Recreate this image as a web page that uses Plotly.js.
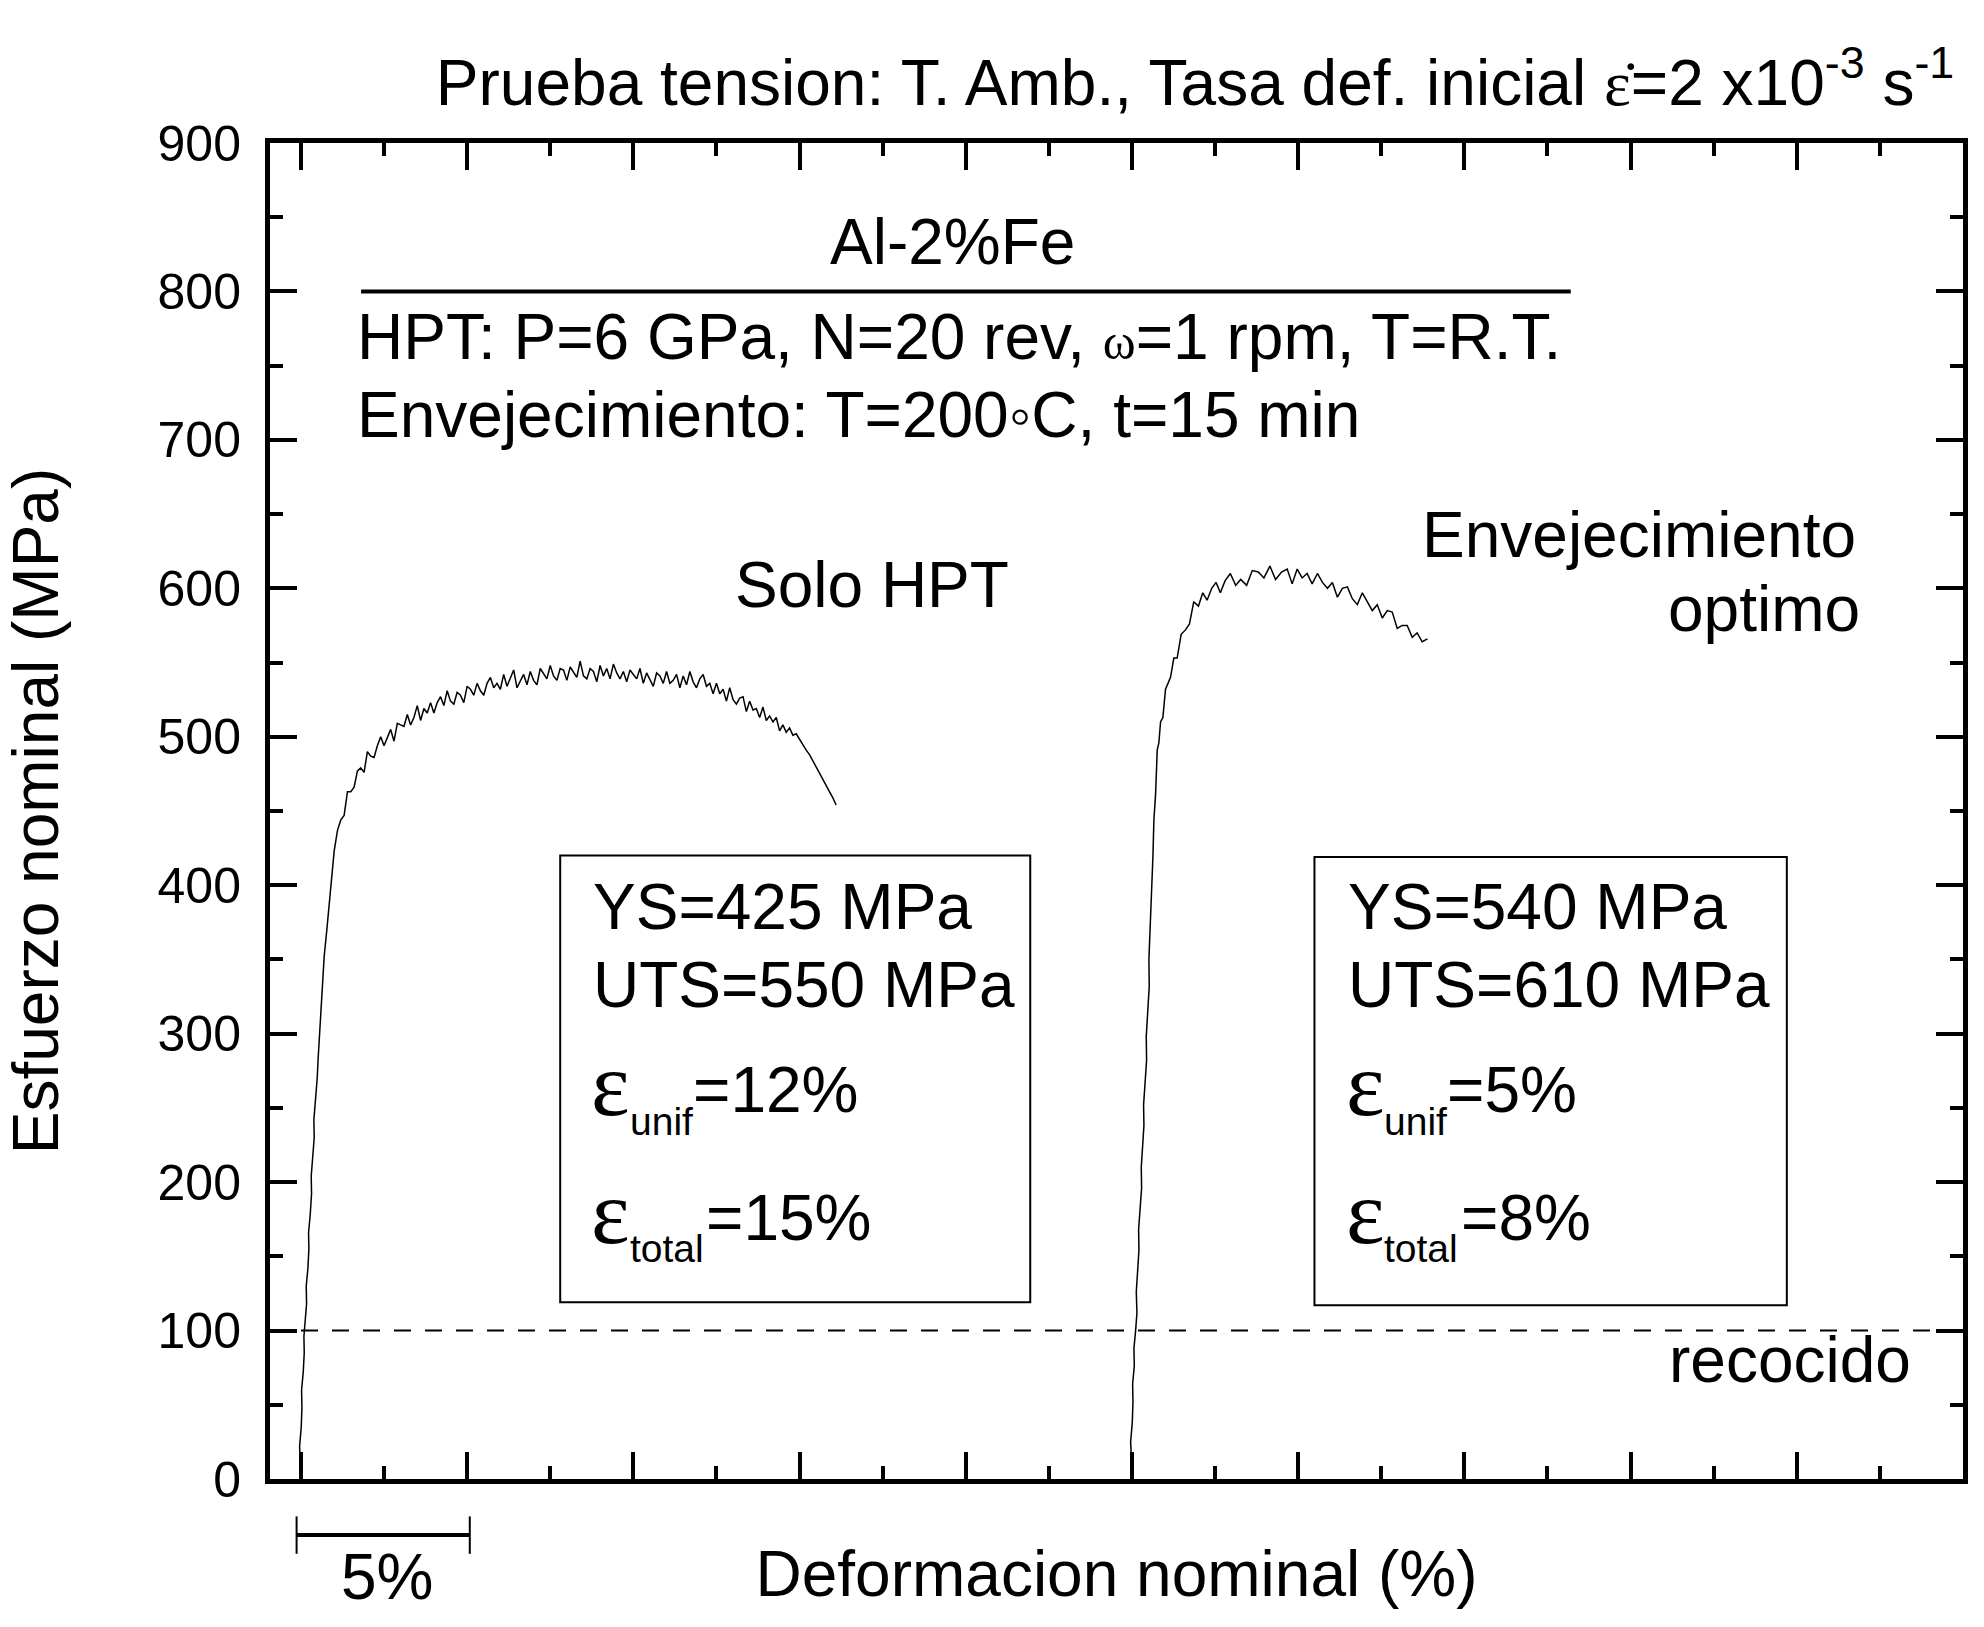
<!DOCTYPE html>
<html>
<head>
<meta charset="utf-8">
<script src="https://cdn.plot.ly/plotly-3.0.1.min.js"></script>
<style>
  html, body { margin: 0; padding: 0; background: #fff; }
  #chart { width: 1984px; height: 1627px; }
</style>
</head>
<body>
<div id="chart"></div>
<script>
// Tension curves: strain in %, nominal stress in MPa
const hptStrain = [
    -0.03, -0.01, -0.04, 0.01, 0.03, 0.02, 0.07, 0.10, 0.09, 0.14, 0.17, 0.16, 0.21, 0.24, 0.23, 0.28,
    0.32, 0.31, 0.36, 0.40, 0.39, 0.45, 0.49, 0.52, 0.56, 0.60, 0.65, 0.70, 0.78, 0.86, 0.93,
    1.0, 1.1, 1.2, 1.3, 1.4, 1.5, 1.6, 1.7, 1.8, 1.9, 2.0, 2.1, 2.2, 2.3, 2.4, 2.5, 2.6, 2.7, 2.8, 2.9,
    3.0, 3.1, 3.2, 3.3, 3.4, 3.5, 3.6, 3.7, 3.8, 3.9, 4.0, 4.1, 4.2, 4.3, 4.4, 4.5, 4.6, 4.7, 4.8, 4.9,
    5.0, 5.1, 5.2, 5.3, 5.4, 5.5, 5.6, 5.7, 5.8, 5.9, 6.0, 6.1, 6.2, 6.3, 6.4, 6.5, 6.6, 6.7, 6.8, 6.9,
    7.0, 7.1, 7.2, 7.3, 7.4, 7.5, 7.6, 7.7, 7.8, 7.9, 8.0, 8.1, 8.2, 8.3, 8.4, 8.5, 8.6, 8.7, 8.8, 8.9,
    9.0, 9.1, 9.2, 9.3, 9.4, 9.5, 9.6, 9.7, 9.8, 9.9, 10.0, 10.1, 10.2, 10.3, 10.4, 10.5, 10.6, 10.7, 10.8, 10.9,
    11.0, 11.1, 11.2, 11.3, 11.4, 11.5, 11.6, 11.7, 11.8, 11.9, 12.0, 12.1, 12.2, 12.3, 12.4, 12.5, 12.6, 12.7, 12.8, 12.9,
    13.0, 13.1, 13.2, 13.3, 13.4, 13.5, 13.6, 13.7, 13.8, 13.9, 14.0, 14.1, 14.2, 14.3, 14.4, 14.5, 14.6, 14.7, 14.8, 14.9,
    15.0, 15.1, 15.2, 15.3, 15.4, 15.5, 15.6, 15.7, 15.8, 15.9, 16.0, 16.1
];
const hptStress = [
    0, 10, 22, 35, 48, 60, 72, 85, 96, 108, 118, 130, 142, 155, 166, 178,
    192, 204, 216, 230, 242, 256, 270, 284, 300, 318, 336, 352, 370, 390, 408,
    423, 437, 444, 447, 463, 463, 466, 477, 479, 476, 490, 487, 486, 494, 500, 494, 499, 505, 497, 509,
    508, 507, 515, 508, 513, 521, 511, 519, 516, 523, 516, 523, 527, 521, 531, 524, 522, 530, 528, 523,
    534, 532, 528, 536, 531, 528, 536, 540, 533, 536, 532, 542, 534, 540, 545, 533, 538, 542, 535, 544,
    538, 535, 546, 542, 539, 548, 541, 538, 546, 545, 538, 547, 543, 540, 551, 541, 539, 546, 544, 537,
    548, 541, 546, 539, 549, 543, 539, 544, 537, 545, 542, 539, 546, 536, 543, 539, 534, 543, 541, 536,
    544, 536, 538, 542, 533, 541, 535, 544, 537, 533, 539, 542, 534, 536, 529, 536, 529, 532, 524, 533,
    525, 522, 526, 527, 517, 524, 518, 519, 513, 520, 511, 514, 510, 513, 504, 508, 503, 506, 501, 502,
    498, 495, 491, 488, 484, 480, 476, 472, 467, 463, 459, 454
];

const agedStrain = [
    24.97, 24.99, 24.96, 25.01, 25.03, 25.02, 25.07, 25.06, 25.11, 25.15, 25.13, 25.18, 25.21, 25.20,
    25.25, 25.29, 25.28, 25.33, 25.36, 25.35, 25.40, 25.44, 25.43, 25.48, 25.52, 25.51, 25.56, 25.61, 25.63,
    25.66, 25.71, 25.76, 25.81, 25.86, 25.93, 26.01, 26.08, 26.16, 26.26, 26.36, 26.48, 26.61, 26.73,
    26.86, 27.0, 27.13, 27.26, 27.4, 27.53, 27.66, 27.8, 27.96, 28.12, 28.27, 28.45, 28.62, 28.8, 28.97,
    29.15, 29.32, 29.5, 29.67, 29.82, 29.97, 30.12, 30.27, 30.42, 30.58, 30.73, 30.88, 31.03, 31.18,
    31.33, 31.48, 31.63, 31.78, 31.93, 32.08, 32.23, 32.38, 32.53, 32.68, 32.83, 32.98, 33.13, 33.28,
    33.43, 33.58, 33.73, 33.89
];
const agedStress = [
    0, 12, 25, 38, 52, 64, 76, 88, 100, 112, 126, 140, 154, 168,
    182, 196, 210, 224, 238, 252, 266, 282, 298, 314, 332, 350, 375, 400, 419,
    444, 461, 491, 496, 510, 513, 532, 536, 540, 553, 553, 569, 572, 576,
    591, 588, 597, 592, 600, 604, 597, 605, 610, 602, 606, 602, 612, 611, 607,
    615, 606, 611, 613, 603, 613, 607, 610, 603, 610, 604, 600, 604, 594,
    600, 601, 593, 589, 597, 591, 585, 589, 580, 585, 584, 573, 575, 575,
    567, 570, 564, 566
];

// Annealed reference level
const annealedStress = 100;

// Property boxes: plain lines, then the strain lines (subscript, value)
const boxLeft = [8.73, 31.43];
const boxPlain = [['YS=425 MPa', 'UTS=550 MPa'], ['YS=540 MPa', 'UTS=610 MPa']];
const plainLevels = [385, 333];
const strainSubs = ['unif', 'total'];
const strainValues = [['=12%', '=15%'], ['=5%', '=8%']];
const strainLevels = [262, 175.5];
const epsLevels = [266, 180];
const subLevels = [241, 155];
const valueOffsets = [3.0, 3.4];

const FONT = "Arial, 'Liberation Sans', sans-serif";
const SERIF = "'Liberation Serif', 'Times New Roman', serif";

const curveStyle = { color: '#000', width: 1.5 };
const traces = [
    { x: hptStrain, y: hptStress, type: 'scatter', mode: 'lines', line: curveStyle, hoverinfo: 'skip' },
    { x: agedStrain, y: agedStress, type: 'scatter', mode: 'lines', line: curveStyle, hoverinfo: 'skip' }
];

function textNote(text, x, y, xanchor, size, family) {
    return {
        text: text, x: x, y: y, xref: 'x', yref: 'y',
        xanchor: xanchor, yanchor: 'middle', showarrow: false,
        font: { family: family || FONT, size: size || 64, color: '#000' }
    };
}

const annotations = [
    textNote('Al-2%Fe', 19.6, 833, 'center'),
    textNote('HPT: P=6 GPa, N=20 rev, <span style="font-family:Liberation Serif,serif;font-size:50px">ω</span>=1 rpm, T=R.T.', 1.63, 769, 'left'),
    textNote('Envejecimiento: T=200◦C, t=15 min', 1.63, 717, 'left'),
    textNote('Solo HPT', 17.19, 602, 'center'),
    textNote('Envejecimiento', 46.85, 636, 'right'),
    textNote('optimo', 46.95, 586, 'right'),
    textNote('recocido', 48.5, 80, 'right'),
    { text: '5%', x: 2.59, y: -0.073, xref: 'x', yref: 'paper', xanchor: 'center', yanchor: 'middle',
      showarrow: false, font: { family: FONT, size: 64, color: '#000' } }
];
boxLeft.forEach((left, b) => {
    boxPlain[b].forEach((t, i) => annotations.push(textNote(t, left, plainLevels[i], 'left')));
    strainSubs.forEach((sub, i) => {
        annotations.push(textNote('ε', left - 0.05, epsLevels[i], 'left', 92, SERIF));
        annotations.push(textNote(sub, left + 1.1, subLevels[i], 'left', 39));
        annotations.push(textNote(strainValues[b][i], left + valueOffsets[i], strainLevels[i], 'left'));
    });
});

const shapes = [
    // rule under the alloy name
    { type: 'line', xref: 'x', yref: 'y', x0: 1.81, x1: 38.2, y0: 800, y1: 800, line: { color: '#000', width: 4 } },
    // property boxes
    { type: 'rect', xref: 'x', yref: 'y', x0: 7.8, x1: 21.94, y0: 119, y1: 420, line: { color: '#000', width: 2 } },
    { type: 'rect', xref: 'x', yref: 'y', x0: 30.49, x1: 44.7, y0: 117, y1: 419, line: { color: '#000', width: 2 } },
    // annealed level
    { type: 'line', xref: 'paper', yref: 'y', x0: 0, x1: 1, y0: annealedStress, y1: annealedStress,
      line: { color: '#000', width: 2, dash: '17px,14px' } },
    // 5 % scale bar under the axis
    { type: 'line', xref: 'x', yref: 'paper', x0: -0.13, x1: 5.08, y0: -0.042, y1: -0.042, line: { color: '#000', width: 4 } },
    { type: 'line', xref: 'x', yref: 'paper', x0: -0.13, x1: -0.13, y0: -0.028, y1: -0.056, line: { color: '#000', width: 2 } },
    { type: 'line', xref: 'x', yref: 'paper', x0: 5.08, x1: 5.08, y0: -0.028, y1: -0.056, line: { color: '#000', width: 2 } }
];

const axisCommon = {
    showline: true, linecolor: '#000', linewidth: 5, mirror: 'ticks',
    ticks: 'inside', ticklen: 27, tickwidth: 4, tickcolor: '#000',
    showgrid: false, zeroline: false
};

const layout = {
    width: 1984, height: 1627,
    paper_bgcolor: '#fff', plot_bgcolor: '#fff',
    margin: { l: 270, r: 21, t: 143, b: 148 },
    showlegend: false,
    font: { family: FONT, color: '#000' },
    title: {
        text: 'Prueba tension: T. Amb., Tasa def. inicial <span style="font-family:Liberation Serif,serif">ε̇</span>=2 x10<sup>-3</sup> s<sup>-1</sup>',
        font: { family: FONT, size: 64, color: '#000' },
        xref: 'container', yref: 'container', x: 0.985, xanchor: 'right', y: 0.949, yanchor: 'middle'
    },
    xaxis: {
        ...axisCommon,
        range: [-0.93, 50], tick0: 0, dtick: 5, showticklabels: false,
        minor: { dtick: 2.5, ticks: 'inside', ticklen: 13, tickwidth: 4, tickcolor: '#000' },
        title: { text: 'Deformacion nominal (%)', font: { family: FONT, size: 64 }, standoff: 70 }
    },
    yaxis: {
        ...axisCommon,
        range: [0, 900], tick0: 0, dtick: 100,
        tickfont: { family: FONT, size: 50 }, ticklabelstandoff: 14,
        minor: { dtick: 50, ticks: 'inside', ticklen: 13, tickwidth: 4, tickcolor: '#000' },
        title: { text: 'Esfuerzo nominal (MPa)', font: { family: FONT, size: 64 }, standoff: 87 }
    },
    shapes: shapes,
    annotations: annotations
};

Plotly.newPlot('chart', traces, layout, { displayModeBar: false, staticPlot: true });
</script>
</body>
</html>
